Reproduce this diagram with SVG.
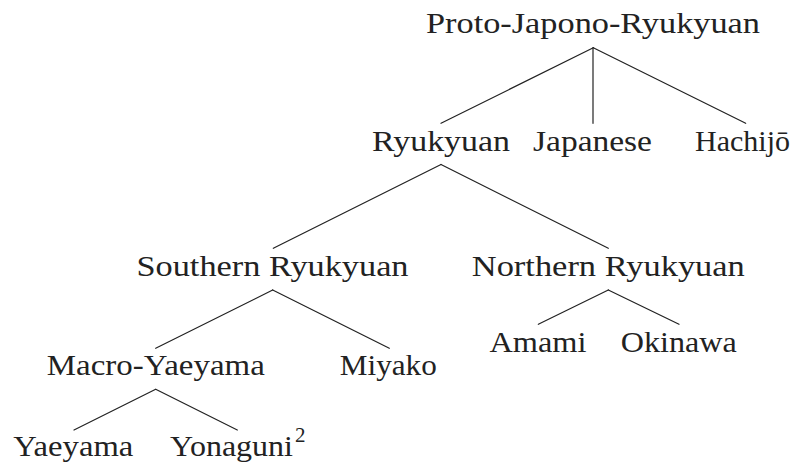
<svg xmlns="http://www.w3.org/2000/svg" width="798" height="466" viewBox="0 0 798 466">
<style>
text{font-family:"Liberation Serif","DejaVu Serif",serif;font-size:30px;fill:#222;text-anchor:middle}
.sup{font-size:21px;text-anchor:start}
line{stroke:#222;stroke-width:1.2;stroke-linecap:round}
</style>
<rect width="798" height="466" fill="#fff"/>
<g id="connectors">
<line x1="593.3" y1="47.7" x2="441" y2="123.3"/>
<line x1="593" y1="47.7" x2="593" y2="123.3"/>
<line x1="593.3" y1="47.7" x2="745.7" y2="123.3"/>
<line x1="441" y1="164.5" x2="273.3" y2="248.3"/>
<line x1="441" y1="164.5" x2="608.3" y2="248.3"/>
<line x1="272.7" y1="290" x2="155.7" y2="348.3"/>
<line x1="272.7" y1="290" x2="389.3" y2="348.3"/>
<line x1="608.3" y1="290" x2="538.3" y2="324.3"/>
<line x1="608.3" y1="290" x2="679" y2="324.3"/>
<line x1="155.7" y1="389.3" x2="74" y2="430"/>
<line x1="155.7" y1="389.3" x2="237.3" y2="430"/>
</g>
<g id="n-root"><text x="593" y="33.3" textLength="334" lengthAdjust="spacingAndGlyphs">Proto-Japono-Ryukyuan</text></g>
<g id="n-ryukyuan"><text x="441" y="151" textLength="138" lengthAdjust="spacingAndGlyphs">Ryukyuan</text></g>
<g id="n-japanese"><text x="592.5" y="151" textLength="119" lengthAdjust="spacingAndGlyphs">Japanese</text></g>
<g id="n-hachijo"><text x="742.5" y="151" textLength="95" lengthAdjust="spacingAndGlyphs">Hachijō</text></g>
<g id="n-southern"><text x="272.5" y="276" textLength="272" lengthAdjust="spacingAndGlyphs">Southern Ryukyuan</text></g>
<g id="n-northern"><text x="608.3" y="276" textLength="273" lengthAdjust="spacingAndGlyphs">Northern Ryukyuan</text></g>
<g id="n-macro"><text x="155.8" y="375" textLength="218" lengthAdjust="spacingAndGlyphs">Macro-Yaeyama</text></g>
<g id="n-miyako"><text x="388.3" y="375" textLength="97" lengthAdjust="spacingAndGlyphs">Miyako</text></g>
<g id="n-amami"><text x="538" y="351.7" textLength="97" lengthAdjust="spacingAndGlyphs">Amami</text></g>
<g id="n-okinawa"><text x="678.8" y="351.7" textLength="116" lengthAdjust="spacingAndGlyphs">Okinawa</text></g>
<g id="n-yaeyama"><text x="73.3" y="456" textLength="120" lengthAdjust="spacingAndGlyphs">Yaeyama</text></g>
<g id="n-yonaguni"><text x="231.5" y="456" textLength="123" lengthAdjust="spacingAndGlyphs">Yonaguni</text><text class="sup" x="295" y="442">2</text></g>
</svg>
